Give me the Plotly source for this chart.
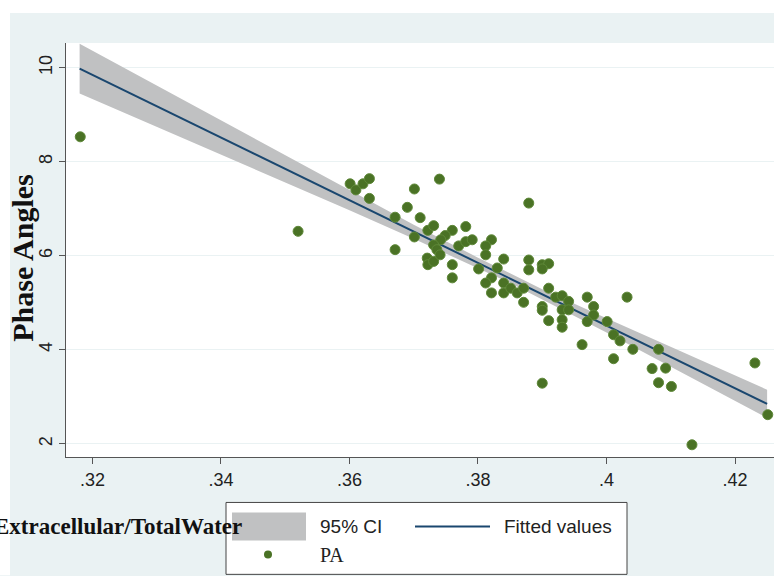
import plotly.graph_objects as go

# ---------------- data ----------------
ecw_tbw = [0.3181, 0.3520, 0.3601, 0.3610, 0.3621, 0.3631, 0.3631, 0.3671, 0.3671, 0.3701,
           0.3690, 0.3710, 0.3701, 0.3740, 0.3879, 0.3722, 0.3731, 0.3760, 0.3749, 0.3742,
           0.3731, 0.3736, 0.3721, 0.3722, 0.3731, 0.3741, 0.3760, 0.3760, 0.3781, 0.3770,
           0.3781, 0.3791, 0.3821, 0.3812, 0.3812, 0.3840, 0.3801, 0.3830, 0.3821, 0.3812,
           0.3821, 0.3840, 0.3840, 0.3851, 0.3861, 0.3871, 0.3871, 0.3879, 0.3879, 0.3900,
           0.3910, 0.3900, 0.3900, 0.3900, 0.3910, 0.3910, 0.3921, 0.3931, 0.3941, 0.3931,
           0.3931, 0.3931, 0.3941, 0.3970, 0.3980, 0.3980, 0.3970, 0.3962, 0.3900, 0.4032,
           0.4001, 0.4011, 0.4021, 0.4041, 0.4081, 0.4011, 0.4071, 0.4092, 0.4081, 0.4101,
           0.4231, 0.4251, 0.4133]
phase_angle = [8.53, 6.52, 7.53, 7.40, 7.53, 7.64, 7.22, 6.82, 6.13, 7.42,
               7.03, 6.81, 6.40, 7.63, 7.12, 6.54, 6.64, 6.54, 6.43, 6.34,
               6.23, 6.13, 5.95, 5.81, 5.88, 6.02, 5.81, 5.53, 6.62, 6.21,
               6.30, 6.34, 6.34, 6.21, 6.02, 5.93, 5.72, 5.74, 5.53, 5.42,
               5.21, 5.42, 5.21, 5.31, 5.21, 5.31, 5.01, 5.91, 5.70, 5.81,
               5.83, 5.72, 4.92, 4.84, 5.31, 4.62, 5.12, 5.15, 5.03, 4.85,
               4.64, 4.48, 4.85, 5.12, 4.92, 4.74, 4.60, 4.11, 3.29, 5.12,
               4.60, 4.32, 4.19, 4.01, 4.01, 3.81, 3.60, 3.61, 3.30, 3.22,
               3.72, 2.62, 1.98]

fit_x = [0.318, 0.33, 0.34, 0.35, 0.36, 0.37, 0.38, 0.385, 0.39, 0.40, 0.41, 0.42, 0.425]
fit_y = [9.98, 9.18, 8.51, 7.85, 7.18, 6.51, 5.85, 5.52, 5.18, 4.52, 3.85, 3.18, 2.85]
ci_lo = [9.45, 8.74, 8.15, 7.57, 6.97, 6.36, 5.74, 5.42, 5.07, 4.37, 3.64, 2.91, 2.55]
ci_hi = [10.51, 9.62, 8.87, 8.13, 7.39, 6.66, 5.96, 5.62, 5.29, 4.67, 4.06, 3.45, 3.15]

x_ticks = [0.32, 0.34, 0.36, 0.38, 0.40, 0.42]
x_ticklabels = [".32", ".34", ".36", ".38", ".4", ".42"]
y_ticks = [2, 4, 6, 8, 10]

# ---------------- layout helpers (pixel -> paper) ----------------
W, H = 774, 576
L, R, T, B = 66, 0, 43, 118.5
PW, PH = W - L - R, H - T - B


def px(x):
    return (x - L) / PW


def py(y):
    return (H - B - y) / PH


BG = "#eaf2f3"
NAVY = "#1a476f"
GREEN = "#4a7225"
BAND = "#c0c1c2"
SANS = "Liberation Sans, Arial, sans-serif"
SERIF = "Liberation Serif, Times New Roman, serif"

fig = go.Figure()
fig.add_trace(go.Scatter(x=fit_x, y=ci_lo, mode="lines", line=dict(width=0, color=BAND),
                         hoverinfo="skip", showlegend=False))
fig.add_trace(go.Scatter(x=fit_x, y=ci_hi, mode="lines", line=dict(width=0, color=BAND),
                         fill="tonexty", fillcolor=BAND, name="95% CI", showlegend=False))
fig.add_trace(go.Scatter(x=fit_x, y=fit_y, mode="lines", line=dict(width=2, color=NAVY),
                         name="Fitted values", showlegend=False))
fig.add_trace(go.Scatter(x=ecw_tbw, y=phase_angle, mode="markers",
                         marker=dict(size=10, color=GREEN, line=dict(width=1, color="#5e8838")),
                         name="PA", showlegend=False))

shapes = [
    # white strips at the top and left of the screenshot
    dict(type="rect", xref="paper", yref="paper", x0=px(0), x1=px(10), y0=py(H), y1=py(0),
         fillcolor="white", line=dict(width=0), layer="below"),
    dict(type="rect", xref="paper", yref="paper", x0=px(0), x1=px(W), y0=py(13), y1=py(0),
         fillcolor="white", line=dict(width=0), layer="below"),
    # legend box
    dict(type="rect", xref="paper", yref="paper", x0=px(226), x1=px(627), y0=py(575), y1=py(503),
         fillcolor="white", line=dict(width=1, color="#444")),
    dict(type="rect", xref="paper", yref="paper", x0=px(232), x1=px(306), y0=py(541), y1=py(513),
         fillcolor=BAND, line=dict(width=0)),
    dict(type="line", xref="paper", yref="paper", x0=px(415), x1=px(490), y0=py(527), y1=py(527),
         line=dict(width=2, color=NAVY)),
    dict(type="circle", xref="paper", yref="paper", x0=px(264), x1=px(272), y0=py(559), y1=py(551),
         fillcolor=GREEN, line=dict(width=0)),
]

annotations = [
    dict(text="95% CI", xref="paper", yref="paper", x=px(318), y=py(527), xanchor="left",
         yanchor="middle", showarrow=False, font=dict(family=SANS, size=19, color="#222")),
    dict(text="Fitted values", xref="paper", yref="paper", x=px(502), y=py(527), xanchor="left",
         yanchor="middle", showarrow=False, font=dict(family=SANS, size=19, color="#222")),
    dict(text="PA", xref="paper", yref="paper", x=px(318), y=py(556), xanchor="left",
         yanchor="middle", showarrow=False, font=dict(family=SERIF, size=20, color="#222")),
    dict(text="<b>Extracellular/TotalWater</b>", xref="paper", yref="paper", x=px(244), y=py(527),
         xanchor="right", yanchor="middle", showarrow=False,
         font=dict(family=SERIF, size=23, color="#111")),
    dict(text="<b>Phase Angles</b>", xref="paper", yref="paper", x=px(23), y=py(258),
         xanchor="center", yanchor="middle", textangle=-90, showarrow=False,
         font=dict(family=SERIF, size=30, color="#111")),
]

fig.update_layout(
    width=W, height=H,
    margin=dict(l=L, r=R, t=T, b=B, pad=0),
    paper_bgcolor=BG, plot_bgcolor="white",
    showlegend=False,
    shapes=shapes, annotations=annotations,
    xaxis=dict(range=[0.31588, 0.42607], tickvals=x_ticks, ticktext=x_ticklabels,
               showgrid=False, zeroline=False, showline=True, linecolor="#555", linewidth=1,
               ticks="outside", ticklen=6, tickcolor="#555",
               tickfont=dict(family=SANS, size=18, color="#222")),
    yaxis=dict(range=[1.72, 10.525], tickvals=y_ticks, tickangle=-90,
               showgrid=True, gridcolor=BG, gridwidth=1, zeroline=False,
               showline=True, linecolor="#555", linewidth=1,
               ticks="outside", ticklen=6, tickcolor="#555",
               tickfont=dict(family=SANS, size=18, color="#222")),
)

fig.write_html(
    "out.html",
    config={"displayModeBar": False},
    post_script="document.body.style.margin='0';document.body.style.padding='0';"
                "document.body.style.overflow='hidden';",
)
